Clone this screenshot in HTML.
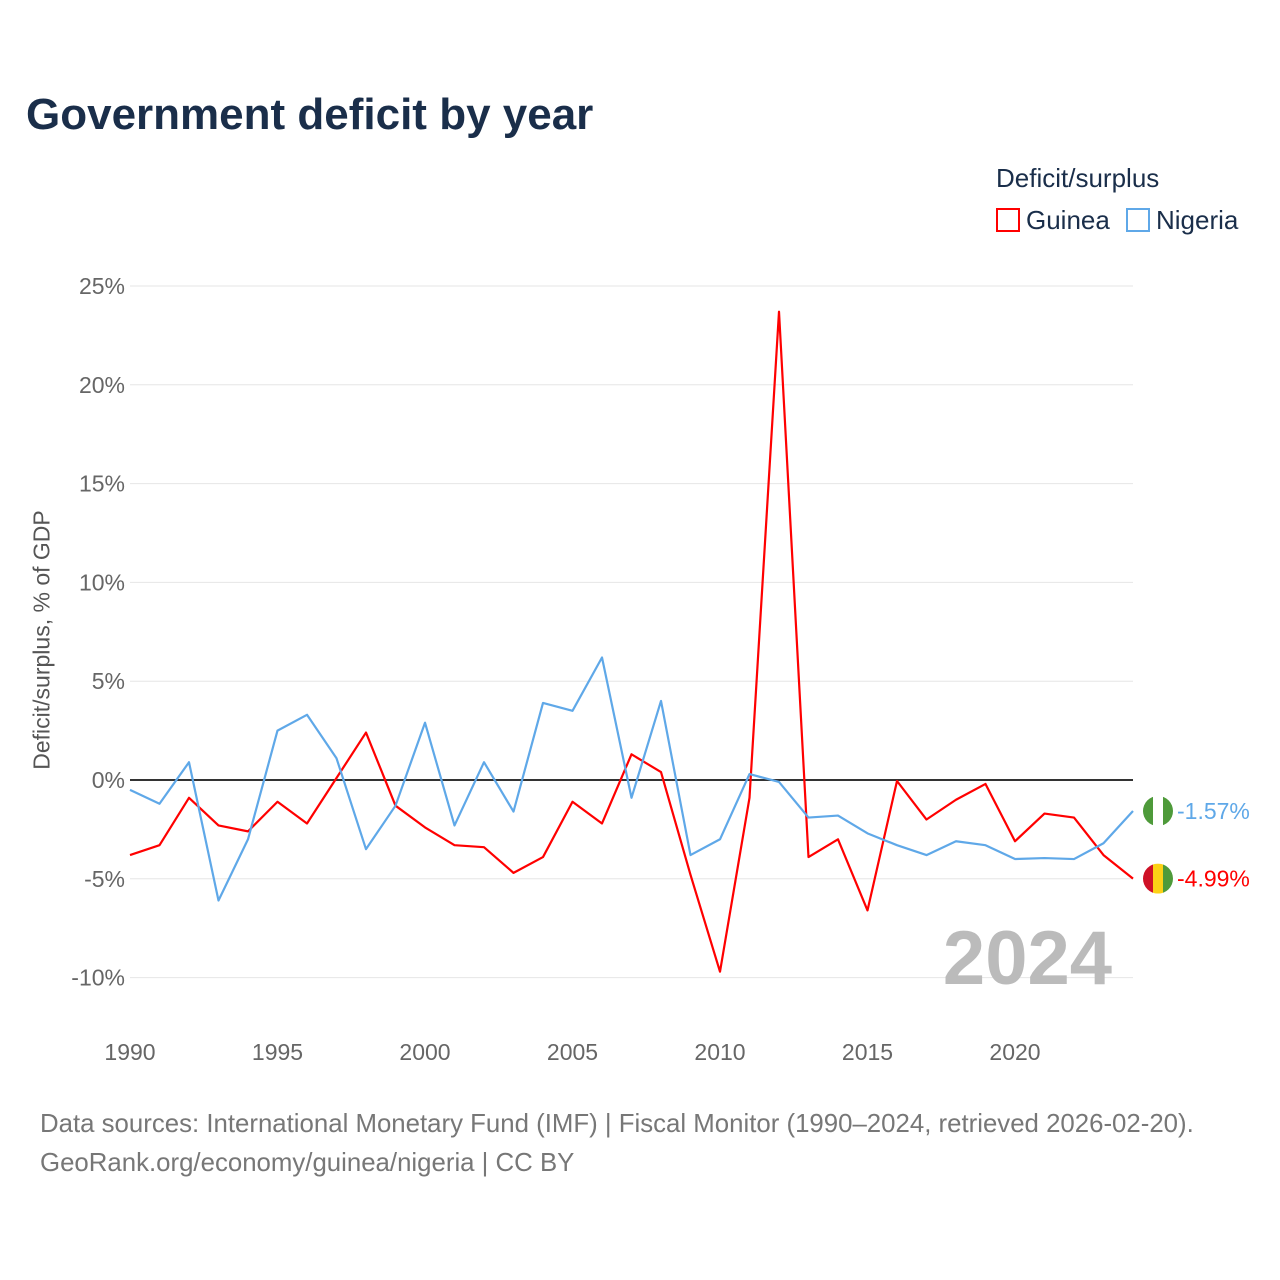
<!DOCTYPE html>
<html><head><meta charset="utf-8"><style>
body{margin:0;background:#fff;font-family:"Liberation Sans",sans-serif;}
#wrap{position:relative;width:1280px;height:1280px;overflow:hidden}
.t{position:absolute;white-space:nowrap}
</style></head><body>
<div id="wrap">
<div class="t" style="left:26px;top:90px;font-size:44px;font-weight:bold;color:#1a2e4a">Government deficit by year</div>
<div class="t" style="left:996px;top:163px;font-size:26px;color:#1a2e4a">Deficit/surplus</div>
<div class="t" style="left:996px;top:205px;font-size:26px;color:#1a2e4a"><span style="display:inline-block;width:24px;height:24px;border:2px solid #f00;box-sizing:border-box;vertical-align:-3px;margin-right:6px"></span>Guinea</div>
<div class="t" style="left:1126px;top:205px;font-size:26px;color:#1a2e4a"><span style="display:inline-block;width:24px;height:24px;border:2px solid #5fa8e8;box-sizing:border-box;vertical-align:-3px;margin-right:6px"></span>Nigeria</div>
<div class="t" style="left:42px;top:640px;font-size:23px;color:#555;transform:translate(-50%,-50%) rotate(-90deg)">Deficit/surplus, % of GDP</div>
<div class="t" style="left:40px;top:1105px;font-size:25.8px;color:#777;line-height:39px">Data sources: International Monetary Fund (IMF) | Fiscal Monitor (1990–2024, retrieved 2026-02-20).<br>GeoRank.org/economy/guinea/nigeria | CC BY</div>
<svg id="svg" width="1280" height="1280" style="position:absolute;left:0;top:0"></svg>
</div>
<script>
const years=[];for(let y=1990;y<=2024;y++)years.push(y);
const guinea=[-3.8,-3.3,-0.9,-2.3,-2.6,-1.1,-2.2,0.1,2.4,-1.3,-2.4,-3.3,-3.4,-4.7,-3.9,-1.1,-2.2,1.3,0.4,-4.8,-9.7,-0.9,23.7,-3.9,-3.0,-6.6,-0.05,-2.0,-1.0,-0.2,-3.1,-1.7,-1.9,-3.8,-4.99];
const nigeria=[-0.5,-1.2,0.9,-6.1,-3.0,2.5,3.3,1.1,-3.5,-1.3,2.9,-2.3,0.9,-1.6,3.9,3.5,6.2,-0.9,4.0,-3.8,-3.0,0.3,-0.1,-1.9,-1.8,-2.7,-3.3,-3.8,-3.1,-3.3,-4.0,-3.95,-4.0,-3.2,-1.57];
const yTicks=[25,20,15,10,5,0,-5,-10];
const xTicks=[1990,1995,2000,2005,2010,2015,2020];
const NS="http://www.w3.org/2000/svg",svg=document.getElementById('svg');
const X=y=>130+(y-1990)*(1133-130)/34, Y=v=>780-v*19.76;
function mk(t,a,p){const e=document.createElementNS(NS,t);for(const k in a)e.setAttribute(k,a[k]);(p||svg).appendChild(e);return e;}
yTicks.forEach(v=>{
 const l=mk('line',{x1:130,x2:1133,y1:Y(v),y2:Y(v),stroke:v===0?'#333':'#e6e6e6','stroke-width':v===0?2:1});
 
 
 const t=mk('text',{x:125,y:Y(v)+8,'text-anchor':'end','font-size':23,fill:'#666'});t.textContent=v+'%';
 
 
});
xTicks.forEach(v=>{const t=mk('text',{x:X(v),y:1060,'text-anchor':'middle','font-size':23,fill:'#666'});t.textContent=v;
 
 });
const yr=mk('text',{x:1112,y:984,'text-anchor':'end','font-size':76,'font-weight':'bold',fill:'#bbb'});yr.textContent='2024';


function series(d,c,n){
 const p=mk('polyline',{points:d.map((v,i)=>X(years[i])+','+Y(v)).join(' '),fill:'none',stroke:c,'stroke-width':2.2,'stroke-linejoin':'round'});
 
 
 const v=d[d.length-1],t=mk('text',{x:1177,y:Y(v)+8,'font-size':23,fill:c});t.textContent=v.toFixed(2)+'%';
 
 
 return Y(v);
}
function flag(cx,cy,cols,n){
 const g=mk('g',{});
 mk('clipPath',{id:'c'+n},g);mk('circle',{cx,cy,r:15},g.lastChild);
 cols.forEach((c,i)=>mk('rect',{x:cx-15+i*10,y:cy-15,width:10,height:30,fill:c,'clip-path':'url(#c'+n+')'},g));
}
const gy=series(guinea,'#f00','guinea'),ny=series(nigeria,'#5fa8e8','nigeria');
flag(1158,ny,['#4e9a3a','#fff','#4e9a3a'],'nigeria');
flag(1158,gy,['#ce1126','#fcd116','#4e9a3a'],'guinea');
</script>
</body></html>
